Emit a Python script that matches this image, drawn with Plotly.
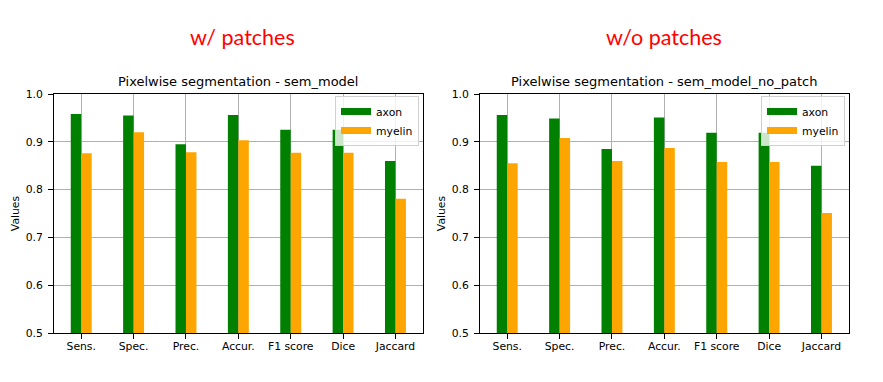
import plotly.graph_objects as go

categories = ["Sens.", "Spec.", "Prec.", "Accur.", "F1 score", "Dice", "Jaccard"]
axon_patch = [0.958, 0.955, 0.895, 0.956, 0.925, 0.925, 0.860]
myelin_patch = [0.876, 0.920, 0.878, 0.903, 0.877, 0.877, 0.781]
axon_nopatch = [0.956, 0.949, 0.885, 0.951, 0.919, 0.919, 0.850]
myelin_nopatch = [0.855, 0.908, 0.860, 0.887, 0.858, 0.858, 0.751]
yticks = [0.5, 0.6, 0.7, 0.8, 0.9, 1.0]
titles = ["Pixelwise segmentation - sem_model", "Pixelwise segmentation - sem_model_no_patch"]
headers = ["w/ patches", "w/o patches"]
series_names = ["axon", "myelin"]
series_colors = ["green", "orange"]

W, H = 883, 382
FONT = "DejaVu Sans"
TICK = 10.8
fig = go.Figure()

panels = [
    ([axon_patch, myelin_patch], "x", "y", (54 / W, 422.7 / W), 242),
    ([axon_nopatch, myelin_nopatch], "x2", "y2", (480 / W, 848.7 / W), 664),
]
ydom = (1 - 333 / H, 1 - 94 / H)
xpos = list(range(len(categories)))

for i, (vals, xa, ya, dom, hx) in enumerate(panels):
    lg = "legend" if i == 0 else "legend2"
    for k, (nm, col, v) in enumerate(zip(series_names, series_colors, vals)):
        fig.add_trace(go.Bar(x=xpos, y=v, name=nm, marker=dict(color=col, line=dict(width=0)),
                             xaxis=xa, yaxis=ya, offset=-0.2 + 0.2 * k, width=0.2,
                             showlegend=False))
        # legend-only entry drawn as a wide patch like matplotlib
        fig.add_trace(go.Scatter(x=[None], y=[None], mode="lines", name=nm,
                                 line=dict(color=col, width=7), xaxis=xa, yaxis=ya, legend=lg))
    common = dict(showline=True, linecolor="black", linewidth=1, mirror=True,
                  ticks="outside", ticklen=5, tickcolor="black",
                  showgrid=True, gridcolor="#b0b0b0", gridwidth=1,
                  tickfont=dict(family=FONT, size=TICK, color="black"), zeroline=False)
    xkey = "xaxis" if i == 0 else "xaxis2"
    ykey = "yaxis" if i == 0 else "yaxis2"
    fig.layout[xkey] = dict(domain=dom, range=[-0.52, 6.52], tickvals=xpos, ticktext=categories,
                            anchor=ya, ticklabelstandoff=-2, **common)
    fig.layout[ykey] = dict(domain=ydom, range=[0.5, 1.0], tickvals=yticks,
                            ticktext=[f"{v:.1f}" for v in yticks], anchor=xa, ticklabelstandoff=3,
                            title=dict(text="Values", font=dict(family=FONT, size=TICK, color="black"), standoff=3),
                            **common)
    cx = (dom[0] + dom[1]) / 2
    fig.add_annotation(text=titles[i], x=cx, y=1 - 82 / H, xref="paper", yref="paper",
                       showarrow=False, font=dict(family=FONT, size=13, color="black"),
                       xanchor="center", yanchor="middle")
    fig.add_annotation(text=headers[i], x=hx / W, y=1 - 37 / H,
                       xref="paper", yref="paper", showarrow=False,
                       font=dict(family="Lato", size=21.5, color="red"),
                       xanchor="center", yanchor="middle")

leg = dict(bgcolor="rgba(255,255,255,0.8)", bordercolor="#d0d0d0", borderwidth=1,
           font=dict(family=FONT, size=TICK, color="black"), xanchor="right", yanchor="top",
           tracegroupgap=0)
fig.update_layout(
    width=W, height=H, margin=dict(l=0, r=0, t=0, b=0, autoexpand=False),
    plot_bgcolor="white", paper_bgcolor="white", barmode="overlay",
    legend=dict(x=419 / W, y=1 - 96 / H, **leg),
    legend2=dict(x=845 / W, y=1 - 96 / H, **leg),
)
fig.write_html("out.html", config={"displayModeBar": False},
               post_script="document.body.style.margin='0';document.body.style.overflow='hidden';")
